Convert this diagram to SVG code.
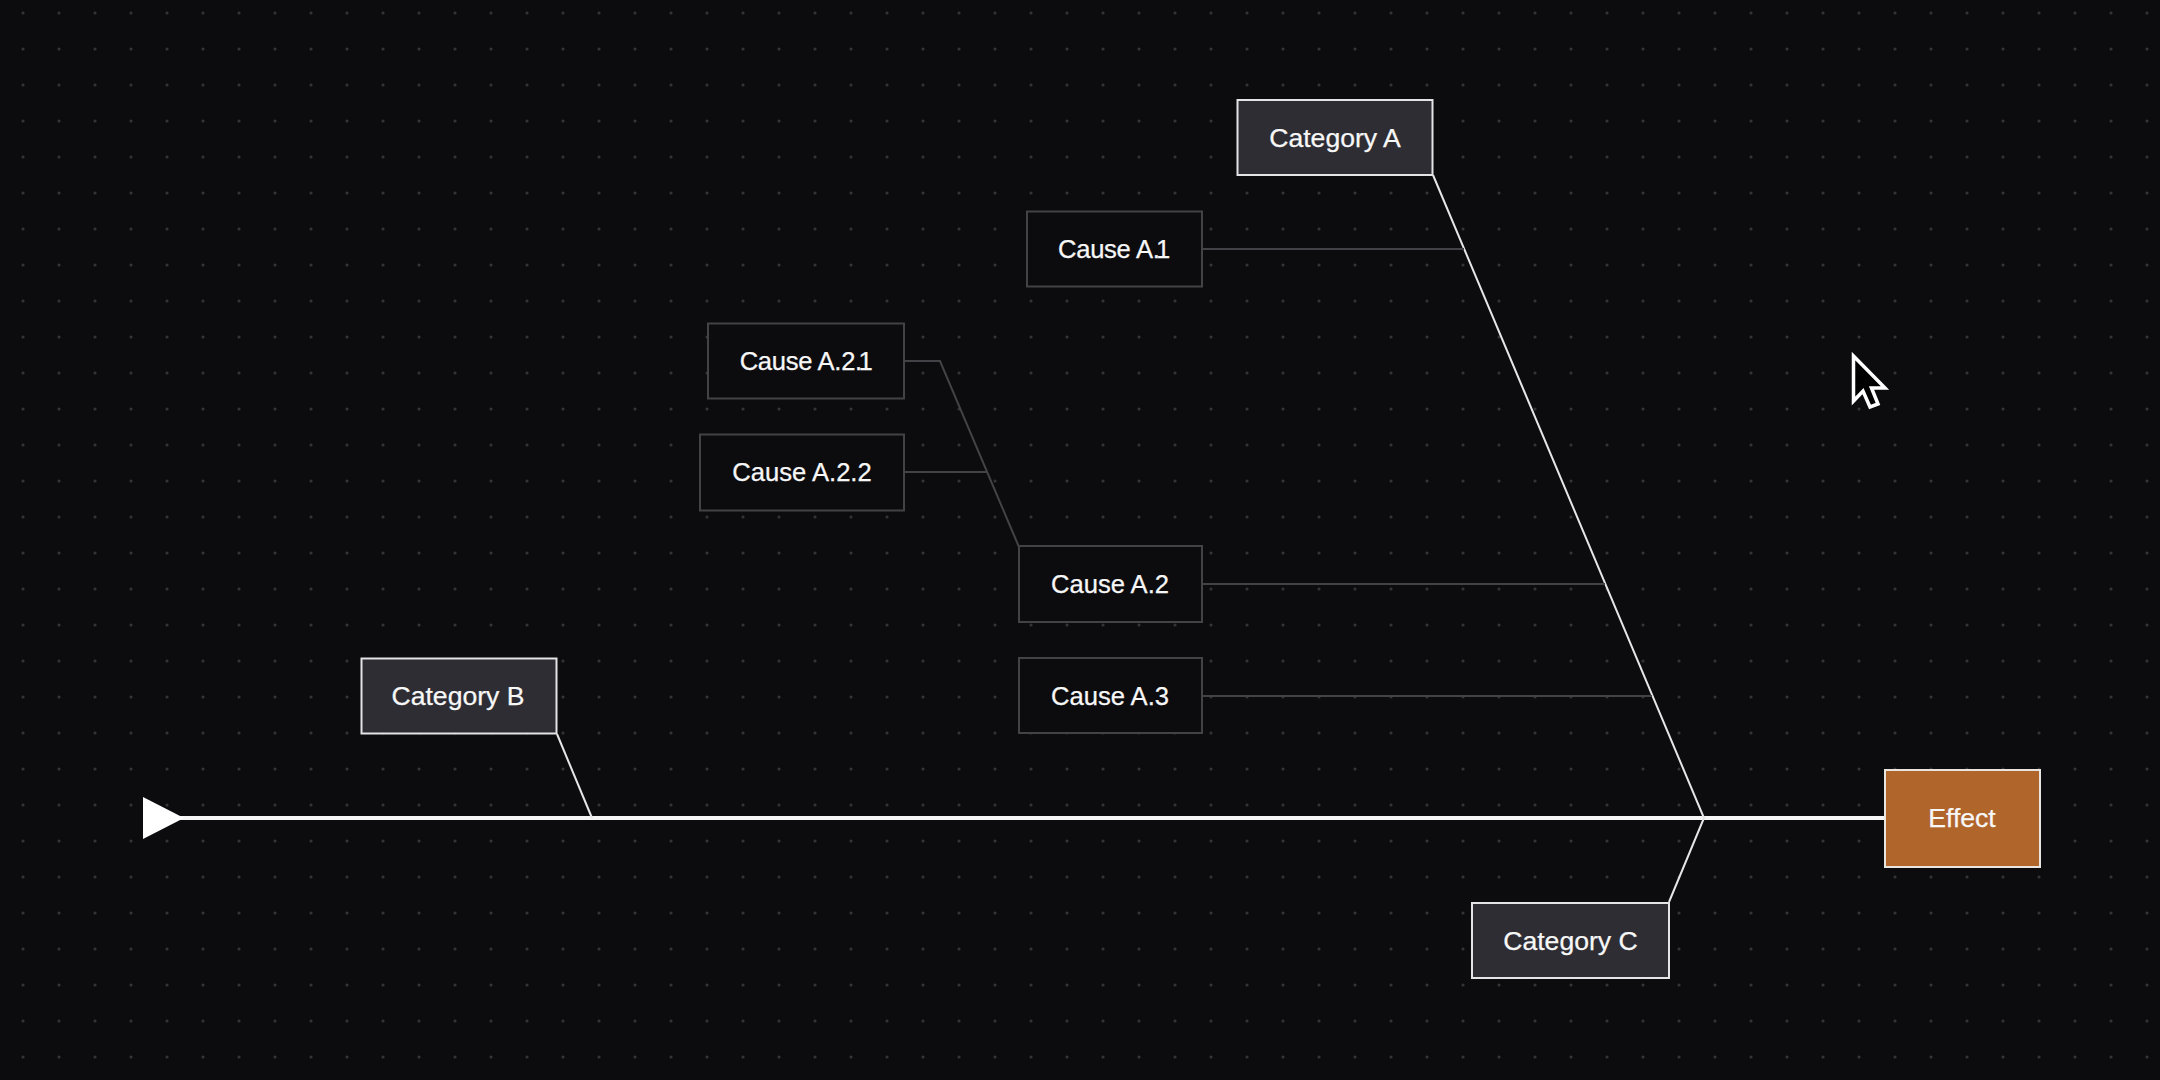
<svg xmlns="http://www.w3.org/2000/svg" width="2160" height="1080" viewBox="0 0 2160 1080">
  <style>
    .cat rect { fill: #2e2d34; stroke: #e4e4e6; stroke-width: 2; }
    .cause rect { fill: #0c0c0f; stroke: #434347; stroke-width: 2; }
    .effect rect { fill: #b0652a; stroke: #e8e4df; stroke-width: 2; }
    text { font-family: "Liberation Sans", Arial, sans-serif; font-size: 25.6px; fill: #f7f7f7; stroke: #f7f7f7; stroke-width: 0.25; text-anchor: middle; dominant-baseline: central; }
    .cat text, .effect text { font-size: 26.6px; }
    .tight { letter-spacing: -0.3px; }
    .major { fill: none; stroke: #e6e6e6; stroke-width: 2; }
    .minor { fill: none; stroke: #434347; stroke-width: 2; }
    .spine { fill: none; stroke: #f5f5f5; stroke-width: 4; }
  </style>
  <defs>
    <pattern id="dots" x="5" y="13" width="36" height="36" patternUnits="userSpaceOnUse">
      <circle cx="18" cy="0" r="1.5" fill="#353538"/>
      <circle cx="18" cy="36" r="1.5" fill="#353538"/>
    </pattern>
  </defs>
  <rect width="2160" height="1080" fill="#0c0c0f"/>
  <rect width="2160" height="1080" fill="url(#dots)"/>
  <g id="connectors">
    <path class="spine" d="M180 818H1884"/>
    <polygon points="143,797 184,818 143,839" fill="#ffffff"/>
    <path class="major" d="M1433 175L1704 818L1669 902"/>
    <path class="major" d="M557 734L592 818"/>
    <path class="minor" d="M1202 249H1464"/>
    <path class="minor" d="M1202 584H1605"/>
    <path class="minor" d="M1202 696H1652"/>
    <path class="minor" d="M904 361H940L1019 547"/>
    <path class="minor" d="M904 472H987"/>
  </g>
  <g id="category-a" class="cat"><rect x="1237.5" y="100" width="195" height="75"/><text x="1335" y="138">Category A</text></g>
  <g id="category-b" class="cat"><rect x="361.5" y="658.5" width="195" height="75"/><text x="458" y="696">Category B</text></g>
  <g id="category-c" class="cat"><rect x="1472" y="903" width="197" height="75"/><text x="1570.5" y="941">Category C</text></g>
  <g id="cause-a1" class="cause"><rect x="1027" y="211.5" width="175" height="75"/><text class="tight" x="1114" y="249">Cause A.<tspan dx="-3.5">1</tspan></text></g>
  <g id="cause-a2" class="cause"><rect x="1019" y="546" width="183" height="76"/><text x="1110" y="584">Cause A.2</text></g>
  <g id="cause-a3" class="cause"><rect x="1019" y="658" width="183" height="75"/><text x="1110" y="696">Cause A.3</text></g>
  <g id="cause-a21" class="cause"><rect x="708" y="323.5" width="196" height="75"/><text class="tight" x="806" y="361">Cause A.2.<tspan dx="-3.5">1</tspan></text></g>
  <g id="cause-a22" class="cause"><rect x="700" y="434.5" width="204" height="76"/><text x="802" y="472">Cause A.2.2</text></g>
  <g id="effect" class="effect"><rect x="1885" y="770" width="155" height="97"/><text x="1962" y="818">Effect</text></g>
  <polygon points="1853.5,356 1885,388 1871.5,388 1878,404 1870,407 1863,391 1853.5,401" fill="#000" stroke="#fff" stroke-width="3.5"/>
</svg>
